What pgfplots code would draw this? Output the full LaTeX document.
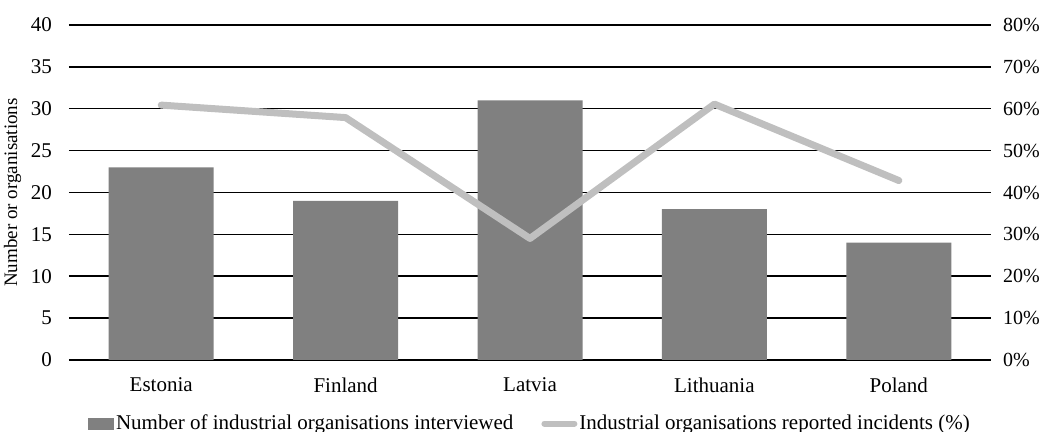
\documentclass[border=0pt]{standalone}
\usepackage{fontspec}
\setmainfont{Liberation Serif}
\usepackage{pgfplots}
\pgfplotsset{compat=1.18}
\definecolor{barg}{HTML}{808080}
\definecolor{lineg}{HTML}{BFBFBF}
\begin{document}
\begin{tikzpicture}[font=\fontsize{10.5}{12}\selectfont]
\useasboundingbox (-34.5pt,-36pt) rectangle (487.5pt,180pt);
\pgfplotsset{
  every axis/.append style={
    scale only axis, width=461pt, height=167.5pt,
    xmin=-0.5, xmax=4.5,
    axis line style={draw=none},
    major tick length=0pt,
    /pgf/number format/assume math mode=true,
    tick label style={font=\fontsize{10.5}{12}\selectfont},
  },
}
\begin{axis}[
  ymin=0, ymax=40, ytick={0,5,...,40},
  ymajorgrids, grid style={black, line width=0.75pt},
  xtick={0,...,4},
  xticklabels={Estonia, Finland, Latvia, Lithuania, Poland},
  xticklabel style={yshift=-5.5pt},
  yticklabel style={xshift=-5pt},
  ylabel={Number or organisations},
  ylabel style={yshift=-2pt, font=\fontsize{9.5}{11}\selectfont},
]
\addplot[ybar, bar width=52.5pt, fill=barg, draw=none] coordinates {
  (0,23) (1,19) (2,31) (3,18) (4,14)
};
\end{axis}
\begin{axis}[
  axis y line*=right, axis x line=none,
  ymin=0, ymax=80, ytick={0,10,...,80},
  yticklabel={\pgfmathprintnumber{\tick}\%},
  yticklabel style={xshift=2.5pt, font=\fontsize{10}{12}\selectfont},
  legend style={at={(axis description cs:0.5,-0.19)}, anchor=center,
    draw=none, fill=none, legend columns=2,
    /tikz/every even column/.append style={column sep=13pt},
    font=\fontsize{10.5}{12}\selectfont, inner sep=0pt,
    nodes={inner sep=1pt}},
  legend cell align=left,
]
\addlegendimage{legend image code/.code={
  \fill[barg] (-2pt,-2.8pt) rectangle (10.5pt,2.8pt);}}
\addlegendentry{Number of industrial organisations interviewed}
\addplot[lineg, line width=3.5pt, line cap=round, line join=round,
  legend image code/.code={
    \draw[lineg, line width=3pt, line cap=round] (-4pt,0pt) -- (11pt,0pt);}]
  coordinates {
  (0,60.87) (1,57.89) (2,29.03) (3,61.11) (4,42.86)
};
\addlegendentry{Industrial organisations reported incidents (\%)}
\end{axis}
\end{tikzpicture}
\end{document}
